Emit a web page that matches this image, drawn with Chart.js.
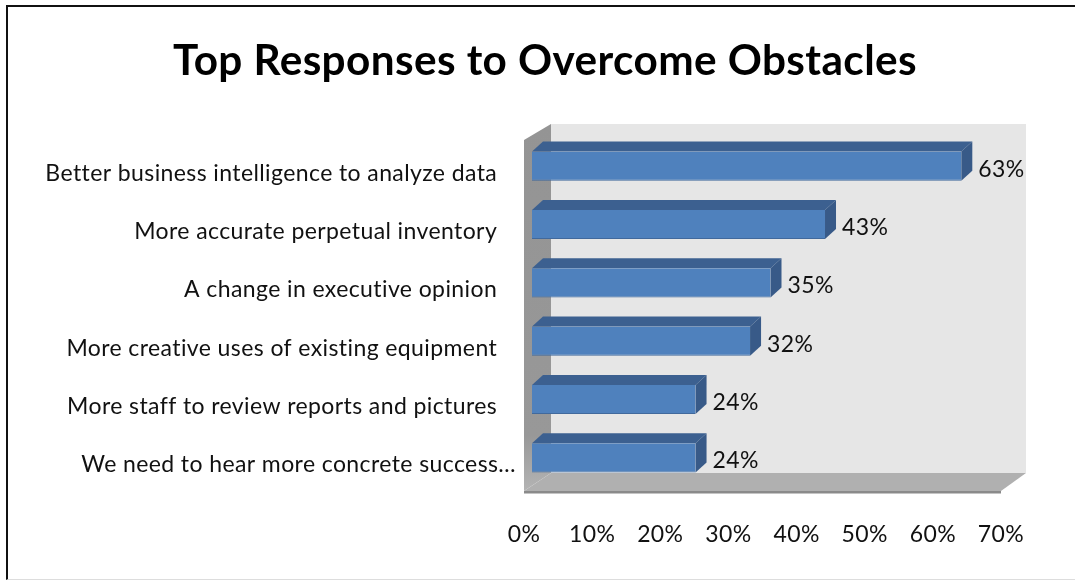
<!DOCTYPE html>
<html>
<head>
<meta charset="utf-8">
<title>Top Responses to Overcome Obstacles</title>
<script src="https://cdn.jsdelivr.net/npm/chart.js@4"></script>
<style>
  html, body { margin: 0; padding: 0; background: #fff; overflow: hidden; }
  #wrap { position: relative; width: 1075px; height: 580px; }
  #frame { position: absolute; left: 6px; top: 5px; right: 0; bottom: 0;
           border-left: 2px solid #111; border-top: 2px solid #111; border-bottom: 1px solid #ddd; }
  canvas { position: absolute; left: 0; top: 0; }
</style>
</head>
<body>
<div id="wrap">
  <div id="frame"></div>
  <canvas id="chart" width="1075" height="580"></canvas>
</div>
<script>
const chartTitle = 'Top Responses to Overcome Obstacles';
const categories = [
  'Better business intelligence to analyze data',
  'More accurate perpetual inventory',
  'A change in executive opinion',
  'More creative uses of existing equipment',
  'More staff to review reports and pictures',
  'We need to hear more concrete success…'
];
const percentValues = [63, 43, 35, 32, 24, 24];
const axisMax = 70;
const axisStep = 10;

const fontName = 'Lato, "Open Sans", sans-serif';

// fake 3D look, excel style
const barDepthX = 11;
const barDepthY = 10;
const axisShift = 8;     // bars start this far right of the 0% label
const wallDepthX = 27;
const wallDepthY = 16;

function poly(ctx, pts, fill) {
  ctx.fillStyle = fill;
  ctx.beginPath();
  pts.forEach((p, i) => i ? ctx.lineTo(p[0], p[1]) : ctx.moveTo(p[0], p[1]));
  ctx.closePath();
  ctx.fill();
}

const walls3d = {
  id: 'walls3d',
  beforeDraw(chart) {
    // has to be set here, chart.js resets the context when it sizes the canvas
    chart.ctx.letterSpacing = '0.4px';
  },
  beforeDatasetsDraw(chart) {
    const ctx = chart.ctx;
    const x = chart.scales.x;
    const left = x.getPixelForValue(0) - axisShift;
    const right = x.getPixelForValue(axisMax) - axisShift;
    const bottom = chart.chartArea.bottom + 4;
    const top = chart.chartArea.top + 3;
    const backTop = top - wallDepthY;
    const floorTop = bottom - 18;

    // back wall
    poly(ctx, [[left + wallDepthX, backTop], [right + wallDepthX - 2, backTop],
               [right + wallDepthX - 2, floorTop], [left + wallDepthX, floorTop]], '#e6e6e6');
    // left wall
    const lw = ctx.createLinearGradient(0, backTop, 0, bottom);
    lw.addColorStop(0, '#949494');
    lw.addColorStop(0.85, '#989898');
    lw.addColorStop(1, '#b4b4b4');
    poly(ctx, [[left, top], [left + wallDepthX, backTop],
               [left + wallDepthX, floorTop], [left, bottom]], lw);
    // floor
    poly(ctx, [[left + wallDepthX, floorTop], [right + wallDepthX - 2, floorTop],
               [right, bottom], [left, bottom]], '#b0b0b0');
    poly(ctx, [[left, bottom], [right, bottom], [right, bottom + 2.5], [left, bottom + 2.5]], '#8a8a8a');

    // bar tops and ends
    chart.getDatasetMeta(0).data.forEach(bar => {
      const y0 = bar.y - bar.height / 2;
      const y1 = bar.y + bar.height / 2;
      poly(ctx, [[bar.base, y0], [bar.base + barDepthX, y0 - barDepthY],
                 [bar.x + barDepthX, y0 - barDepthY], [bar.x, y0]], '#3c6090');
      poly(ctx, [[bar.x, y0], [bar.x + barDepthX, y0 - barDepthY],
                 [bar.x + barDepthX, y1 - barDepthY], [bar.x, y1]], '#385a88');
    });
  },
  afterDatasetsDraw(chart) {
    const ctx = chart.ctx;
    ctx.save();
    ctx.font = '23px ' + fontName;
    ctx.fillStyle = '#111';
    ctx.textAlign = 'left';
    ctx.textBaseline = 'middle';
    chart.getDatasetMeta(0).data.forEach((bar, i) => {
      ctx.fillText(percentValues[i] + '%', bar.x + 17, bar.y + 3);
    });
    ctx.restore();
  }
};

new Chart(document.getElementById('chart'), {
  type: 'bar',
  data: {
    labels: categories,
    datasets: [{
      data: percentValues,
      backgroundColor: '#4f81bd',
      borderColor: '#41699c',
      borderWidth: { top: 0, right: 0, bottom: 1, left: 0 },
      categoryPercentage: 1,
      barPercentage: 0.5
    }]
  },
  options: {
    indexAxis: 'y',
    responsive: false,
    animation: false,
    layout: { padding: { left: 15, right: 0, top: 0, bottom: 0 } },
    plugins: {
      legend: { display: false },
      tooltip: { enabled: false },
      title: {
        display: true,
        text: chartTitle,
        color: '#000',
        font: { family: fontName, size: 42.3, weight: 'bold' },
        padding: { top: 36, bottom: 50.2 }
      }
    },
    scales: {
      x: {
        min: 0,
        max: axisMax,
        grid: { display: false, drawTicks: false },
        border: { display: false },
        afterFit(scale) {
          scale.height = 93;
          scale.paddingRight = 66;   // room for the back wall on the right
        },
        ticks: {
          stepSize: axisStep,
          padding: 34,
          maxRotation: 0,
          labelOffset: -axisShift,
          color: '#111',
          font: { family: fontName, size: 23 },
          callback: v => v + '%'
        }
      },
      y: {
        grid: { display: false, drawTicks: false },
        border: { display: false },
        afterFit(scale) { scale.width = 517; },
        ticks: {
          autoSkip: false,
          padding: 16,
          labelOffset: 7,
          color: '#111',
          font: { family: fontName, size: 23 },
          // trailing blanks keep the full labels clear of the wall, the cut one runs closer
          callback(v) {
            const s = this.getLabelForValue(v);
            return s.endsWith('…') ? s : s + '   ';
          }
        }
      }
    }
  },
  plugins: [walls3d]
});
</script>
</body>
</html>
